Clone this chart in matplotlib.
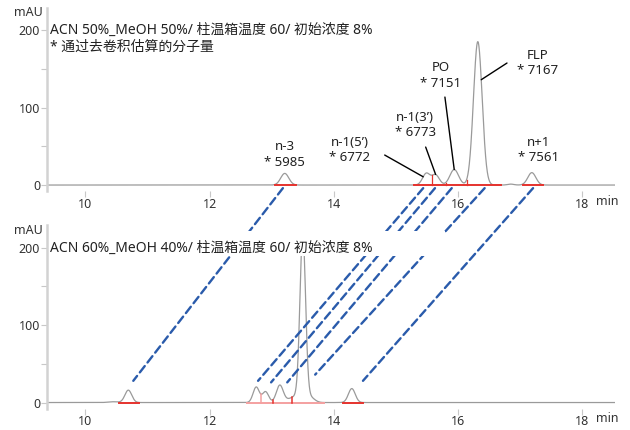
import numpy as np
import matplotlib
matplotlib.use('Agg')
import matplotlib.pyplot as plt
from matplotlib.patches import ConnectionPatch, Rectangle

plt.rcParams['font.family'] = ['Noto Sans', 'Noto Sans CJK SC', 'DejaVu Sans']

# run 1: ACN 50% / MeOH 50%  (retention time, height mAU, sigma)
top_t = [13.21, 15.49, 15.64, 15.94, 16.32, 16.85, 17.19]
top_h = [15, 15, 13, 20, 185, 1.2, 16]
top_w = [0.065, 0.06, 0.06, 0.07, 0.07, 0.05, 0.065]
top_base = [(13.05, 13.39), (15.30, 16.70), (17.04, 17.37)]
top_drops = [15.58, 15.80, 16.14]

# labelled peaks of run 1
names = ['n-3', 'n-1(5’)', 'n-1(3’)', 'PO', 'FLP', 'n+1']
mw = [5985, 6772, 6773, 7151, 7167, 7561]

# run 2: ACN 60% / MeOH 40%
bot_t = [10.45, 10.69, 12.75, 12.90, 13.13, 13.40, 13.50, 13.62, 14.29]
bot_h = [1.0, 16, 20, 14, 22, 8, 212, 6, 18]
bot_w = [0.08, 0.055, 0.05, 0.05, 0.055, 0.12, 0.045, 0.07, 0.055]
bot_base = [(10.54, 10.86), (14.15, 14.47)]
bot_base_light = [(12.60, 13.84)]
bot_drops = [12.83, 13.02, 13.33]
bot_drops_light = [0]  # index of drops drawn light

# same species in both runs (top time -> bottom time)
link_top = [13.18, 15.44, 15.63, 15.90, 16.43, 17.21]
link_bot = [10.77, 12.78, 12.99, 13.25, 13.70, 14.47]
link_bot_y = [28, 28, 26, 26, 36, 28]

title_top = 'ACN 50%_MeOH 50%/ 柱温箱温度 60/ 初始浓度 8%'
note_top = '* 通过去卷积估算的分子量'
title_bot = 'ACN 60%_MeOH 40%/ 柱温箱温度 60/ 初始浓度 8%'

XMIN, XMAX = 9.38, 18.53
YMIN, YMAX = -7.7, 228.4
GRAY = '#9a9a9a'
RED = '#e5322d'
PINK = '#f4a0a0'
BLUE = '#2a5bab'


def trace(t, hs, ws, x):
    y = np.zeros_like(x)
    for c, h, w in zip(t, hs, ws):
        y += h * np.exp(-0.5 * ((x - c) / w) ** 2)
    return y


def style_axes(ax):
    ax.set_xlim(XMIN, XMAX)
    ax.set_ylim(YMIN, YMAX)
    for s in ['top', 'right', 'bottom']:
        ax.spines[s].set_visible(False)
    ax.spines['left'].set_color('#d2d2d2')
    ax.spines['left'].set_linewidth(1.8)
    ax.set_xticks([10, 12, 14, 16, 18])
    ax.set_yticks([0, 50, 100, 150, 200])
    ax.set_yticklabels(['0', '', '100', '', '200'])
    ax.tick_params(axis='both', colors='#c8c8c8', labelcolor='#333333',
                   labelsize=9, length=4, width=0.8, pad=1)
    ax.text(-0.008, 0.975, 'mAU', transform=ax.transAxes, ha='right',
            va='center', fontsize=9, color='#333333')
    ax.text(18.40, -21, 'min', ha='center', va='center', fontsize=9,
            color='#333333', clip_on=False)


fig = plt.figure(figsize=(6.3, 4.3), dpi=100)
ax1 = fig.add_axes([0.0746, 0.5558, 0.9016, 0.4256])
ax2 = fig.add_axes([0.0746, 0.0500, 0.9016, 0.4256])

x = np.linspace(XMIN, XMAX, 4000)
y1 = trace(top_t, top_h, top_w, x)
y2 = trace(bot_t, bot_h, bot_w, x)

for ax, y in [(ax1, y1), (ax2, y2)]:
    style_axes(ax)
    ax.plot(x, y, color=GRAY, lw=0.9, zorder=2)

# integration marks
for a, b in top_base:
    ax1.plot([a, b], [0, 0], color=RED, lw=1.4, zorder=3)
for d in top_drops:
    ax1.plot([d, d], [0, np.interp(d, x, y1)], color=RED, lw=0.9, zorder=3)
for a, b in bot_base_light:
    ax2.plot([a, b], [0, 0], color=PINK, lw=1.4, zorder=3)
for a, b in bot_base:
    ax2.plot([a, b], [0, 0], color=RED, lw=1.4, zorder=3)
for i, d in enumerate(bot_drops):
    c = PINK if i in bot_drops_light else RED
    ax2.plot([d, d], [0, np.interp(d, x, y2)], color=c, lw=1.1, zorder=3)

# peak labels of run 1
label_pos = [(13.21, 39.5), (14.26, 45.5), (15.31, 77.5), (15.72, 141.5),
             (17.29, 157.5), (17.30, 45.5)]
for n, m, (lx, ly) in zip(names, mw, label_pos):
    ax1.text(lx, ly, f'{n}\n* {m}', ha='center', va='center', fontsize=9.5,
             color='#222222', linespacing=1.25)

# leader lines: (label end) -> (point on peak)
leaders = [((14.82, 38.7), top_t[1] - 0.05), ((15.48, 49), top_t[2]),
           ((15.79, 113.5), top_t[3]), ((16.79, 157.4), top_t[4] + 0.055)]
for (sx, sy), px in leaders:
    ax1.annotate('', xy=(px, np.interp(px, x, y1)), xytext=(sx, sy),
                 arrowprops=dict(arrowstyle='-', color='black', lw=1.0,
                                 shrinkA=0, shrinkB=0))

# blue dashed links between the runs
for ta, tb, yb in zip(link_top, link_bot, link_bot_y):
    con = ConnectionPatch(xyA=(ta, -4), coordsA=ax1.transData,
                          xyB=(tb, yb), coordsB=ax2.transData,
                          arrowstyle='-', color=BLUE, lw=1.7,
                          linestyle=(0, (3.4, 1.9)), shrinkA=0, shrinkB=0,
                          zorder=2)
    fig.add_artist(con)

# white box behind the second title hides the links
fig.add_artist(Rectangle((49 / 630, 1 - 256 / 430), 396 / 630, 25 / 430,
                         transform=fig.transFigure, facecolor='white',
                         edgecolor='none', zorder=3))

fig.text(50 / 630, 1 - 30 / 430, title_top, ha='left', va='center',
         fontsize=10, color='#222222', zorder=4)
fig.text(50 / 630, 1 - 47 / 430, note_top, ha='left', va='center',
         fontsize=10, color='#222222', zorder=4)
fig.text(50 / 630, 1 - 248 / 430, title_bot, ha='left', va='center',
         fontsize=10, color='#222222', zorder=4)

fig.savefig('out.png', dpi=100)
